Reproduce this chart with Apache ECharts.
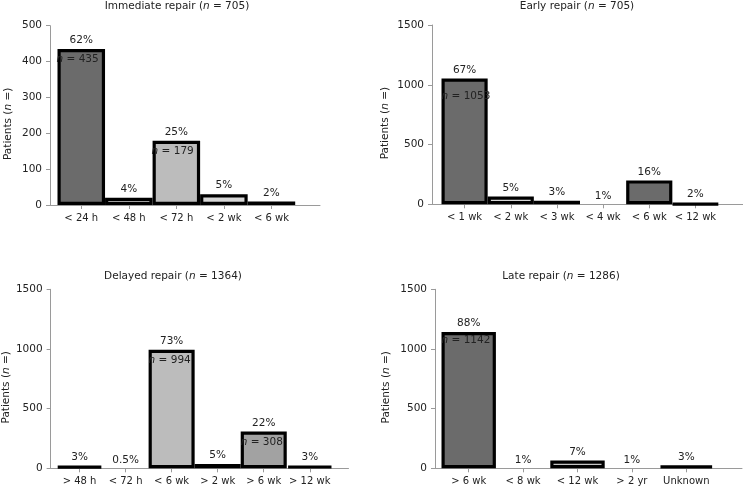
<!DOCTYPE html>
<html><head><meta charset="utf-8">
<script src="https://cdn.jsdelivr.net/npm/echarts@6/dist/echarts.min.js"></script>
<style>html,body{margin:0;padding:0;background:#fff}#c{width:743px;height:489px}</style>
</head><body><div id="c"></div>
<script>
// ---- Data ----
const immediateTitle = 'Immediate repair';
const immediateTotal = 705;
const immediateCategories = ['< 24 h', '< 48 h', '< 72 h', '< 2 wk', '< 6 wk'];
const immediateCounts = [435, 20, 179, 30, 10];
const immediatePercents = ['62%', '4%', '25%', '5%', '2%'];
const immediateNValues = [435, null, 179, null, null];
const immediateYTicks = [0, 100, 200, 300, 400, 500];

const earlyTitle = 'Early repair';
const earlyTotal = 705;
const earlyCategories = ['< 1 wk', '< 2 wk', '< 3 wk', '< 4 wk', '< 6 wk', '< 12 wk'];
const earlyCounts = [1053, 65, 30, 0, 200, 3];
const earlyPercents = ['67%', '5%', '3%', '1%', '16%', '2%'];
const earlyNValues = [1053, null, null, null, null, null];
const earlyYTicks = [0, 500, 1000, 1500];

const delayedTitle = 'Delayed repair';
const delayedTotal = 1364;
const delayedCategories = ['> 48 h', '< 72 h', '< 6 wk', '> 2 wk', '> 6 wk', '> 12 wk'];
const delayedCounts = [20, 0, 994, 35, 308, 22];
const delayedPercents = ['3%', '0.5%', '73%', '5%', '22%', '3%'];
const delayedNValues = [null, null, 994, null, 308, null];
const delayedYTicks = [0, 500, 1000, 1500];

const lateTitle = 'Late repair';
const lateTotal = 1286;
const lateCategories = ['> 6 wk', '< 8 wk', '< 12 wk', '> 2 yr', 'Unknown'];
const lateCounts = [1142, 0, 65, 0, 23];
const latePercents = ['88%', '1%', '7%', '1%', '3%'];
const lateNValues = [1142, null, null, null, null];
const lateYTicks = [0, 500, 1000, 1500];

// ---- Styles (fill per bar; null = no visible bar) ----
const immediateColors = ['#6b6b6b', '#d6d6d6', '#bcbcbc', '#d6d6d6', '#111111'];
const earlyColors = ['#6b6b6b', '#d6d6d6', '#111111', null, '#6b6b6b', '#111111'];
const delayedColors = ['#111111', null, '#bcbcbc', '#dadada', '#a2a2a2', '#111111'];
const lateColors = ['#6b6b6b', null, '#c6c6c6', null, '#111111'];

const FONT = 'DejaVu Sans';
const TXT = '#222';
const AX = '#9a9a9a';

const panels = [
  {title: immediateTitle, total: immediateTotal, cats: immediateCategories, counts: immediateCounts, pct: immediatePercents, nVals: immediateNValues, colors: immediateColors, ticks: immediateYTicks,
   axisGrid: {left: 50, top: 25.7, width: 270, height: 179.3}, barGrid: {left: 57.5, width: 237.7}, titleX: 177, titleY: 1, nameGap: 36, nOffset: [-6, 0]},
  {title: earlyTitle, total: earlyTotal, cats: earlyCategories, counts: earlyCounts, pct: earlyPercents, nVals: earlyNValues, colors: earlyColors, ticks: earlyYTicks,
   axisGrid: {left: 432, top: 25, width: 311, height: 179.3}, barGrid: {left: 441.5, width: 277}, titleX: 577, titleY: 1, nameGap: 41, nOffset: [-5, 7]},
  {title: delayedTitle, total: delayedTotal, cats: delayedCategories, counts: delayedCounts, pct: delayedPercents, nVals: delayedNValues, colors: delayedColors, ticks: delayedYTicks,
   axisGrid: {left: 50.5, top: 289.3, width: 298, height: 179}, barGrid: {left: 56.5, width: 276.3}, titleX: 173, titleY: 270.5, nameGap: 37, nOffset: [-5, 0]},
  {title: lateTitle, total: lateTotal, cats: lateCategories, counts: lateCounts, pct: latePercents, nVals: lateNValues, colors: lateColors, ticks: lateYTicks,
   axisGrid: {left: 435, top: 289.3, width: 307, height: 179}, barGrid: {left: 441.5, width: 272}, titleX: 561, titleY: 270.5, nameGap: 43, nOffset: [-5, -2]}
];

const italicRich = (size) => ({i: {fontStyle: 'italic', fontFamily: FONT, fontSize: size, color: TXT}});

const option = {animation: false, backgroundColor: '#fff', title: [], grid: [], xAxis: [], yAxis: [], series: []};

panels.forEach((p, k) => {
  const gA = 2 * k, gB = 2 * k + 1;
  const yMax = p.ticks[p.ticks.length - 1];
  const yStep = p.ticks[1] - p.ticks[0];
  option.title.push({
    text: p.title + ' ({i|n} = ' + p.total + ')',
    left: p.titleX, top: p.titleY, textAlign: 'center', padding: 0,
    textStyle: {fontFamily: FONT, fontSize: 10.5, fontWeight: 'normal', color: TXT, rich: italicRich(10.5)}
  });
  option.grid.push(Object.assign({containLabel: false}, p.axisGrid));
  option.grid.push({left: p.barGrid.left, width: p.barGrid.width, top: p.axisGrid.top, height: p.axisGrid.height, containLabel: false});
  option.xAxis.push({gridIndex: gA, type: 'value', min: 0, max: 1,
    axisLine: {show: true, lineStyle: {color: AX, width: 1}}, axisTick: {show: false}, axisLabel: {show: false}, splitLine: {show: false}});
  option.xAxis.push({gridIndex: gB, type: 'category', data: p.cats,
    axisLine: {show: false}, axisTick: {show: true, alignWithLabel: true, length: 4, lineStyle: {color: AX}},
    axisLabel: {margin: 8, fontFamily: FONT, fontSize: 10, color: TXT, interval: 0}, splitLine: {show: false}});
  option.yAxis.push({gridIndex: gA, type: 'value', min: 0, max: yMax, interval: yStep,
    axisLine: {show: true, lineStyle: {color: AX, width: 1}}, axisTick: {show: true, length: 4, lineStyle: {color: AX}},
    axisLabel: {margin: 8, fontFamily: FONT, fontSize: 10.5, color: TXT, formatter: (v) => String(v)}, splitLine: {show: false},
    name: 'Patients ({i|n} =)', nameLocation: 'middle', nameGap: p.nameGap,
    nameTextStyle: {fontFamily: FONT, fontSize: 10.5, color: TXT, padding: [0, 17, 0, 0], rich: italicRich(10.5)}});
  option.yAxis.push({gridIndex: gB, type: 'value', min: 0, max: yMax, show: false});
  option.series.push({
    type: 'bar', xAxisIndex: gB, yAxisIndex: gB, barCategoryGap: '0%',
    data: p.counts.map((v, j) => ({value: v, itemStyle: p.colors[j] ? {color: p.colors[j], borderColor: '#000', borderWidth: 3.2} : {color: 'rgba(0,0,0,0)', borderWidth: 0}})),
    label: {show: true, position: 'top', distance: 3, fontFamily: FONT, fontSize: 10.5, color: TXT, formatter: (q) => p.pct[q.dataIndex]}
  });
  option.series.push({
    type: 'bar', xAxisIndex: gB, yAxisIndex: gB, barCategoryGap: '0%', barGap: '-100%', silent: true,
    data: p.counts, itemStyle: {color: 'rgba(0,0,0,0)', borderWidth: 0},
    label: {show: true, position: 'insideTopLeft', distance: 5, offset: p.nOffset, fontFamily: FONT, fontSize: 10.5, color: TXT,
      formatter: (q) => p.nVals[q.dataIndex] != null ? '{i|n} = ' + p.nVals[q.dataIndex] : '', rich: italicRich(10.5)}
  });
});

const chart = echarts.init(document.getElementById('c'), null, {renderer: 'canvas'});
chart.setOption(option);
</script>
</body></html>
